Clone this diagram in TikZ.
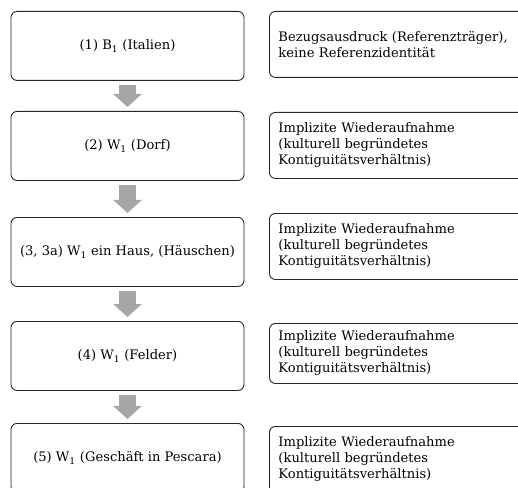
\documentclass[tikz,border=0pt]{standalone}
\usepackage{fontspec}
\setmainfont{DejaVu Serif}
\usetikzlibrary{arrows.meta}
\tikzset{stage/.style={draw=black!85, line width=0.9bp, rounded corners=6bp, minimum width=233bp, minimum height=69bp, inner sep=0pt, align=center, anchor=north, font=\fontsize{13.1bp}{16bp}\selectfont},
note/.style={draw=black!85, line width=0.9bp, rounded corners=6bp, anchor=north west, minimum height=#1, text width=262bp, inner xsep=9bp, inner ysep=0pt, align=left, font=\fontsize{13.1bp}{16bp}\selectfont},
note/.default={66bp},
flow/.style={draw=black!35, line width=17bp, -{Triangle[width=28bp,length=13bp]}, shorten <=4bp, shorten >=4bp}}

\begin{document}
\begin{tikzpicture}[x=1bp,y=-1bp]

    \clip (0,0) rectangle (518,488);

    \node[stage] (1) at (127.5,11) {(1) B\textsubscript{1} (Italien)};
    \node[stage] (2) at (127.5,111) {(2) W\textsubscript{1} (Dorf)};
    \node[stage] (3) at (127.5,217) {(3, 3a) W\textsubscript{1} ein Haus, (Häuschen)};
    \node[stage] (4) at (127.5,321) {(4) W\textsubscript{1} (Felder)};
    \node[stage] (5) at (127.5,423) {(5) W\textsubscript{1} (Geschäft in Pescara)};

    \node[note] (n1) at (269,11) {Bezugsausdruck (Referenzträger),\\keine Referenzidentität};
    \node[note] (n2) at (269,112) {Implizite Wiederaufnahme\\(kulturell begründetes\\Kontiguitätsverhältnis)};
    \node[note] (n3) at (269,213) {Implizite Wiederaufnahme\\(kulturell begründetes\\Kontiguitätsverhältnis)};
    \node[note=60bp] (n4) at (269,323) {Implizite Wiederaufnahme\\(kulturell begründetes\\Kontiguitätsverhältnis)};
    \node[note] (n5) at (269,426) {Implizite Wiederaufnahme\\(kulturell begründetes\\Kontiguitätsverhältnis)};

    \foreach \i/\j in {1/2,2/3,3/4,4/5}
    \draw[flow] (\i.south) -- (\j.north);

\end{tikzpicture}
\end{document}
